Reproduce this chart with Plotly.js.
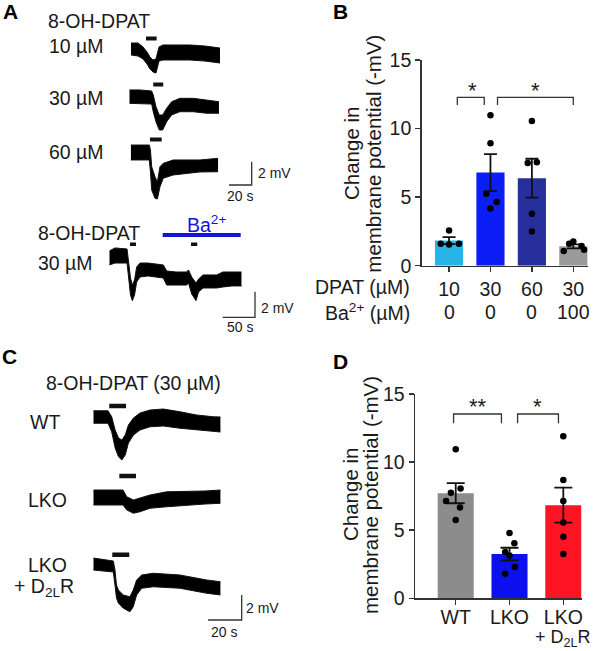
<!DOCTYPE html>
<html><head><meta charset="utf-8">
<script src="https://cdn.plot.ly/plotly-3.0.1.min.js"></script>
<style>html,body{margin:0;padding:0;background:#fff}#chart{width:602px;height:651px}</style>
</head><body><div id="chart"></div>
<script>
// ---------------- Panel B data ----------------
const dpatConc = ['10', '30', '60', '30'];
const baConc = ['0', '0', '0', '100'];
const meanB = [1.83, 6.79, 6.38, 1.41];
const semB = [0.26, 1.35, 1.42, 0.14];
const pointsB = [
  [2.57, 1.60, 1.55, 1.60],
  [10.97, 8.93, 5.24, 4.64, 4.17],
  [10.56, 7.48, 7.55, 3.79, 2.50],
  [1.77, 1.60, 1.43, 1.17, 1.07]
];
const jitterB = [
  [0, -0.2, 0, 0.24],
  [0, 0, -0.1, 0.15, 0],
  [0, -0.1, 0.12, 0, 0],
  [0, -0.1, 0.2, 0.26, -0.23]
];

// ---------------- Panel D data ----------------
const groupsD = ['WT', 'LKO', 'LKO'];
const groupsD2 = ['', '', '+ D<sub>2L</sub>R'];
const meanD = [7.72, 3.25, 6.84];
const semD = [0.74, 0.46, 1.28];
const pointsD = [
  [10.95, 8.07, 7.75, 7.14, 6.67, 5.75],
  [4.80, 4.05, 3.40, 3.15, 2.30, 1.80],
  [11.90, 8.68, 7.14, 5.57, 4.52, 3.25]
];
const jitterD = [
  [0, 0.09, -0.09, -0.18, 0.08, 0],
  [0, 0.09, -0.08, 0, 0.1, -0.08],
  [0, 0, 0, 0, 0, 0]
];

// ---------------- Panel A traces (time s, envelope mV) ----------------
const t10 = [0, 6.2, 10.6, 14.1, 16.7, 19.4, 22.0, 23.3, 24.7, 28.2, 38.8, 52.0, 65.2, 78.4];
const hi10 = [0.49, 0.49, 0.15, -0.28, -0.71, -0.97, -0.88, -0.28, 0.15, 0.32, 0.32, 0.32, 0.23, 0.06];
const lo10 = [-0.54, -0.63, -0.88, -1.31, -1.74, -2.0, -2.09, -1.66, -1.06, -0.97, -0.97, -0.97, -1.06, -1.23];

const t30 = [0, 9.4, 19.7, 21.1, 23.5, 26.4, 29.4, 32.9, 37.3, 44.6, 56.4, 68.1, 79.0];
const hi30 = [0.58, 0.58, 0.49, 0.15, -0.86, -1.57, -1.57, -1.0, -0.43, -0.14, -0.14, -0.28, -0.43];
const lo30 = [-0.57, -0.57, -0.63, -1.29, -2.15, -2.86, -2.86, -2.15, -1.57, -1.29, -1.29, -1.42, -1.42];

const t60 = [0, 16.4, 17.4, 18.5, 21.4, 23.5, 25.8, 28.7, 37.5, 49.3, 61.0, 77.1];
const hi60 = [0.64, 0.64, 0.21, -1.22, -2.08, -2.53, -1.22, -0.93, -0.64, -0.64, -0.64, -0.50];
const lo60 = [-0.64, -0.64, -1.67, -3.22, -3.93, -3.99, -2.94, -2.21, -1.93, -1.79, -1.67, -1.65];

const tBa = [0, 8.8, 27.4, 30.1, 32.8, 35.6, 39.0, 42.3, 47.5, 59.8, 73.3, 83.5, 88.7, 103.1, 119.6, 122.4, 127.4, 134.0, 137.9, 144.8, 155.7, 166.0, 175.7, 189.6, 204.6];
const hiBa = [0.39, 0.63, 0.55, -0.47, -1.72, -2.27, -1.88, -0.86, -0.55, -0.55, -0.63, -0.70, -1.17, -1.25, -1.25, -1.09, -1.64, -2.11, -1.80, -1.48, -1.48, -1.48, -1.25, -1.25, -1.25];
const loBa = [-0.70, -0.55, -0.55, -1.72, -3.05, -3.49, -3.05, -2.03, -1.64, -1.56, -1.64, -1.72, -2.27, -2.27, -2.27, -2.11, -2.97, -3.49, -2.81, -2.50, -2.50, -2.50, -2.42, -2.34, -2.34];

// ---------------- Panel C traces ----------------
const tWT = [0, 8.75, 10.95, 13.0, 15.0, 17.0, 19.0, 20.9, 23.9, 27.8, 33.8, 41.7, 51.6, 61.5, 71.4, 75.8];
const hiWT = [0.50, 0.50, 0.02, -1.04, -1.68, -1.84, -1.44, -0.64, -0.08, 0.32, 0.56, 0.64, 0.42, 0.16, 0.02, 0];
const loWT = [-0.50, -0.50, -1.18, -2.48, -3.18, -3.44, -3.04, -2.08, -1.44, -1.04, -0.78, -0.72, -0.90, -1.04, -1.18, -1.20];

const tLKO = [0, 9.9, 17.7, 19.9, 23.9, 27.8, 33.8, 43.7, 55.6, 66.5, 75.8];
const hiLKO = [0.6, 0.6, 0.6, 0.06, -0.2, -0.04, 0.2, 0.46, 0.46, 0.52, 0.6];
const loLKO = [-0.6, -0.6, -0.6, -1.0, -1.26, -1.14, -0.86, -0.74, -0.6, -0.52, -0.46];

const tRes = [0, 11.9, 12.9, 13.8, 14.9, 17.9, 21.8, 23.8, 25.8, 28.8, 35.7, 51.6, 67.5, 75.8];
const hiRes = [0.48, 0.24, -0.48, -1.68, -2.08, -2.48, -2.62, -2.08, -1.28, -0.88, -0.74, -0.88, -1.28, -1.42];
const loRes = [-0.48, -0.64, -1.68, -2.72, -3.12, -3.54, -3.82, -3.42, -2.48, -1.94, -1.82, -1.94, -2.34, -2.48];

// drug application intervals (s)
const appl10 = [13.2, 22.6], appl30 = [21.1, 29.9], appl60 = [17.0, 27.3];
const applBa = [[32.0, 41.3], [126.3, 136.0]];
const baInterval = [82.5, 203.1];
const applWT = [9.5, 19.5], applLKO = [15.5, 25.4], applRes = [11.3, 21.4];

// ---------------- layout helpers ----------------
const W = 602, H = 651;
const px = v => v / W;
const py = v => 1 - v / H;
const FONT = 'Liberation Sans, Arial, Helvetica, sans-serif';
const TXT = '#1a1a1a';
const FS = 19.5;

const data = [];
const layout = {
  width: W, height: H, margin: {l: 0, r: 0, t: 0, b: 0},
  paper_bgcolor: '#fff', plot_bgcolor: 'rgba(0,0,0,0)', showlegend: false,
  font: {family: FONT, color: TXT, size: FS},
  shapes: [], annotations: []
};
const ann = (text, x, y, o = {}) => layout.annotations.push(Object.assign({
  text, x: px(x), y: py(y), xref: 'paper', yref: 'paper', showarrow: false,
  xanchor: 'left', yanchor: 'middle', font: {size: FS, color: TXT, family: FONT}
}, o));

// ---------------- bar charts ----------------
function barPanel(n, cats, means, sems, pts, jit, colors, geom) {
  const axn = n === 1 ? '' : n;
  const xa = 'x' + axn, ya = 'y' + axn;
  const xs = cats.map((_, i) => i);
  data.push({type: 'bar', x: xs, y: means, width: geom.bw, xaxis: xa, yaxis: ya,
    marker: {color: colors, line: {width: 0}},
    error_y: {type: 'data', array: sems, visible: true, color: '#111', thickness: 1.8, width: geom.cap}});
  const dx = [], dy = [];
  pts.forEach((arr, i) => arr.forEach((v, k) => { dx.push(i + jit[i][k]); dy.push(v); }));
  data.push({type: 'scatter', mode: 'markers', x: dx, y: dy, xaxis: xa, yaxis: ya,
    marker: {color: '#000', size: 6.5}});
  layout['xaxis' + axn] = {domain: [px(geom.xl), px(geom.xr)], range: geom.xrange, anchor: ya,
    tickvals: xs, ticktext: cats, ticks: 'outside', ticklen: 5, tickwidth: 1.5, tickcolor: '#333',
    ticklabelstandoff: geom.standoff || 0,
    showline: true, linewidth: 1.5, linecolor: '#333', showgrid: false, zeroline: false,
    tickfont: {size: FS, color: TXT, family: FONT}, fixedrange: true};
  layout['yaxis' + axn] = {domain: [py(geom.yb), py(geom.yt)], range: [0, 15], anchor: xa,
    tickvals: [0, 5, 10, 15], ticks: 'outside', ticklen: 5, tickwidth: 1.5, tickcolor: '#333',
    showline: true, linewidth: 1.5, linecolor: '#333', showgrid: false, zeroline: false,
    tickfont: {size: FS, color: TXT, family: FONT}, fixedrange: true};
}

barPanel(1, dpatConc, meanB, semB, pointsB, jitterB,
  ['#28b4e6', '#0b1ef5', '#262f9c', '#9a9a9a'],
  {xl: 421.7, xr: 588, xrange: [-0.66, 3.355], yb: 265.7, yt: 60, bw: 0.68, cap: 6.5});
barPanel(2, groupsD, meanD, semD, pointsD, jitterD,
  ['#8c8c8c', '#0c10ee', '#ff1424'],
  {xl: 415, xr: 581.7, xrange: [-0.757, 2.342], yb: 598.3, yt: 394, bw: 0.67, cap: 9, standoff: -4});

// significance brackets
function bracket(xa, ya, x0, x1, yTop, yLeg) {
  layout.shapes.push({type: 'path', xref: xa, yref: ya,
    path: `M ${x0},${yLeg} L ${x0},${yTop} L ${x1},${yTop} L ${x1},${yLeg}`,
    line: {color: '#333', width: 1.3}});
}
bracket('x', 'y', 0.2, 0.85, 12.28, 11.72);
bracket('x', 'y', 1.17, 3.0, 12.28, 11.72);
bracket('x2', 'y2', -0.04, 0.85, 13.53, 12.85);
bracket('x2', 'y2', 1.15, 1.91, 13.53, 12.85);
const star = (xa, ya, x, y, s) => layout.annotations.push({text: s, x, y, xref: xa, yref: ya,
  showarrow: false, xanchor: 'center', yanchor: 'bottom', font: {size: 22, color: TXT, family: FONT}});
star('x', 'y', 0.565, 11.75, '*');
star('x', 'y', 2.08, 11.75, '*');
star('x2', 'y2', 0.41, 13.0, '**');
star('x2', 'y2', 1.52, 13.0, '*');

// second row of category labels
baConc.forEach((c, i) => layout.annotations.push({text: c, x: i, xref: 'x', y: py(312), yref: 'paper',
  showarrow: false, xanchor: 'center', yanchor: 'middle', font: {size: FS, color: TXT, family: FONT}}));
groupsD2.forEach((c, i) => { if (c) layout.annotations.push({text: c, x: i, xref: 'x2', y: py(638.5), yref: 'paper',
  showarrow: false, xanchor: 'center', yanchor: 'middle', font: {size: 18, color: TXT, family: FONT}}); });

// ---------------- electrophysiology traces ----------------
let axN = 3;
function ephys(t, hi, lo, p, appls, barY, barW) {
  const n = axN++;
  const xa = 'x' + n, ya = 'y' + n;
  const tMax = t[t.length - 1];
  layout['xaxis' + n] = {domain: [px(p.x0), px(p.x0 + tMax * p.sx)], range: [0, tMax], visible: false, anchor: ya, fixedrange: true};
  layout['yaxis' + n] = {domain: [py(p.y0 + 5 * p.sy), py(p.y0 - 2 * p.sy)], range: [-5, 2], visible: false, anchor: xa, fixedrange: true};
  data.push({type: 'scatter', mode: 'lines', x: t, y: lo, xaxis: xa, yaxis: ya, line: {color: '#111', width: 1}, hoverinfo: 'skip'});
  data.push({type: 'scatter', mode: 'lines', x: t, y: hi, xaxis: xa, yaxis: ya, line: {color: '#111', width: 1},
    fill: 'tonexty', fillcolor: '#000', hoverinfo: 'skip'});
  appls.forEach(a => layout.shapes.push({type: 'line', xref: xa, yref: 'paper', x0: a[0], x1: a[1],
    y0: py(barY), y1: py(barY), line: {color: '#111', width: barW}}));
  return xa;
}
function scaleBar(cx, cy, lenX, lenY) {
  layout.shapes.push({type: 'path', xref: 'paper', yref: 'paper',
    path: `M ${px(cx - lenX)},${py(cy)} L ${px(cx)},${py(cy)} L ${px(cx)},${py(cy - lenY)}`,
    line: {color: '#333', width: 1.3}});
}

const pA = {sx: 1.135, sy: 11.65};
ephys(t10, hi10, lo10, Object.assign({x0: 131, y0: 48.7}, pA), [appl10], 38.5, 4);
ephys(t30, hi30, lo30, Object.assign({x0: 129.3, y0: 96.7}, pA), [appl30], 84.5, 4);
ephys(t60, hi60, lo60, Object.assign({x0: 130.7, y0: 152.5}, pA), [appl60], 139.5, 4);
scaleBar(251.7, 185, 20 * pA.sx, 2 * pA.sy);

const pBa = {x0: 109.3, y0: 256, sx: 0.647, sy: 12.8};
const xBa = ephys(tBa, hiBa, loBa, pBa, applBa, 244.3, 3.5);
layout.shapes.push({type: 'line', xref: xBa, yref: 'paper', x0: baInterval[0], x1: baInterval[1],
  y0: py(235), y1: py(235), line: {color: '#1414d8', width: 4}});
scaleBar(255, 317.3, 50 * pBa.sx, 2 * pBa.sy);

const pC = {sx: 1.68, sy: 12.5};
ephys(tWT, hiWT, loWT, Object.assign({x0: 93.3, y0: 417}, pC), [applWT], 406, 4.5);
ephys(tLKO, hiLKO, loLKO, Object.assign({x0: 93.3, y0: 497.5}, pC), [applLKO], 476, 4.5);
ephys(tRes, hiRes, loRes, Object.assign({x0: 93.3, y0: 564}, pC), [applRes], 554.7, 4.5);
scaleBar(241.7, 620, 20 * pC.sx, 2 * pC.sy);

// ---------------- text ----------------
const bold = {size: 21, color: '#000', family: FONT};
ann('<b>A</b>', 1, 11, {font: bold});
ann('<b>B</b>', 331, 11, {font: bold});
ann('<b>C</b>', 0, 356, {font: bold});
ann('<b>D</b>', 331, 361, {font: bold});

const small = {size: 14, color: TXT, family: FONT};
ann('8-OH-DPAT', 46, 21);
ann('10 µM', 47, 46);
ann('30 µM', 47, 98);
ann('60 µM', 47, 152);
ann('2 mV', 256, 173, {font: small});
ann('20 s', 240, 196, {xanchor: 'center', font: small});
ann('8-OH-DPAT', 36, 233);
ann('30 µM', 36, 262.5);
ann('Ba<sup>2+</sup>', 206, 224, {xanchor: 'center', font: {size: FS, color: '#1414d8', family: FONT}});
ann('2 mV', 259, 307.5, {font: small});
ann('50 s', 240, 327, {xanchor: 'center', font: small});

ann('8-OH-DPAT (30 µM)', 44, 383);
ann('WT', 45, 421.7, {xanchor: 'center'});
ann('LKO', 47.7, 500, {xanchor: 'center'});
ann('LKO', 47.7, 565, {xanchor: 'center'});
ann('+ D<sub>2L</sub>R', 44, 587, {xanchor: 'center'});
ann('2 mV', 244, 608, {font: small});
ann('20 s', 224, 632, {xanchor: 'center', font: small});

ann('DPAT (µM)', 412, 287, {xanchor: 'right'});
ann('Ba<sup>2+</sup> (µM)', 412, 312, {xanchor: 'right'});

const titleFont = {size: 20.5, color: TXT, family: FONT};
ann('Change in', 351, 154, {xanchor: 'center', textangle: -90, font: titleFont});
ann('membrane potential (-mV)', 372.7, 154, {xanchor: 'center', textangle: -90, font: titleFont});
ann('Change in', 350, 495, {xanchor: 'center', textangle: -90, font: titleFont});
ann('membrane potential (-mV)', 370, 495, {xanchor: 'center', textangle: -90, font: titleFont});

Plotly.newPlot('chart', data, layout, {staticPlot: true, displayModeBar: false});
</script>
</body></html>
